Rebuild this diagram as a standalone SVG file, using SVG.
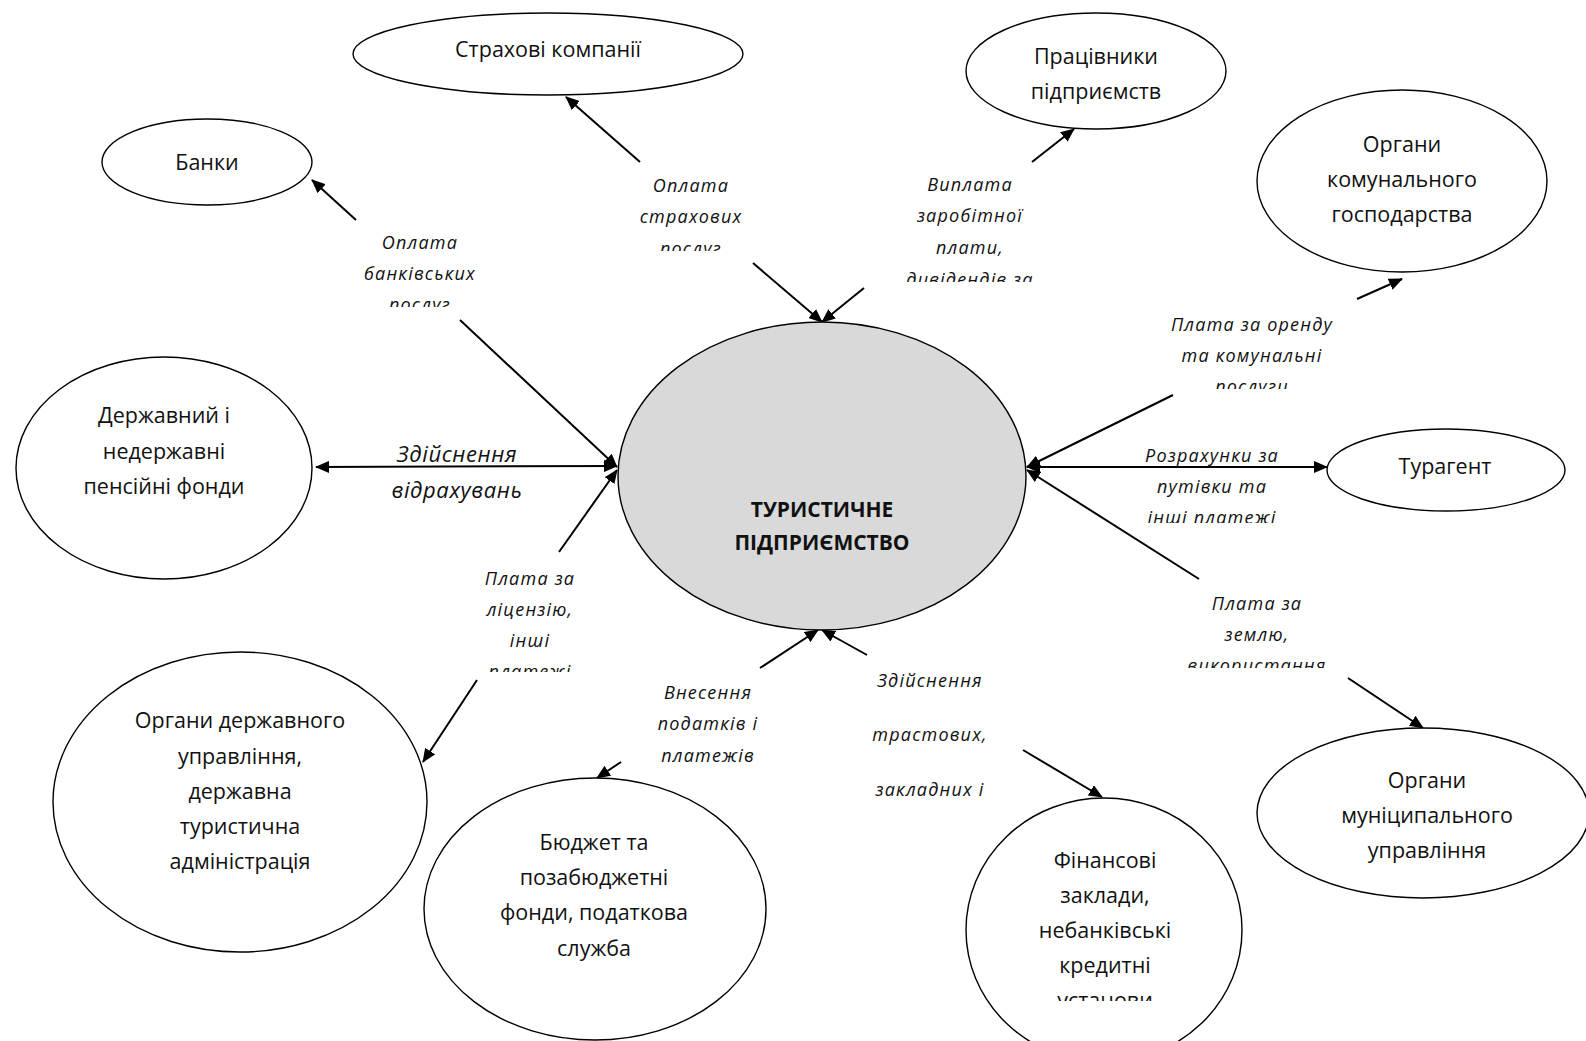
<svg xmlns="http://www.w3.org/2000/svg" width="1586" height="1041" viewBox="0 0 1586 1041">
<style>
.node ellipse{fill:#fff;stroke:#000;stroke-width:1.4}
.node.core ellipse{fill:#d9d9d9}
.nt{font-family:"Open Sans","Noto Sans",sans-serif;font-size:21.5px;fill:#111;text-anchor:middle}
.core .nt{font-weight:bold;font-size:21px}
.lbl{font-family:"Open Sans","Noto Sans",sans-serif;font-style:italic;font-size:18px;letter-spacing:1.2px;fill:#111;text-anchor:middle}
.lbl.big{font-size:22px;letter-spacing:0.6px}
.conn line{stroke:#000;stroke-width:2;fill:none}
</style>
<defs>
<marker id="ah" viewBox="0 0 14 12" refX="13" refY="6" markerWidth="14" markerHeight="12" markerUnits="userSpaceOnUse" orient="auto">
<path d="M0,0 L14,6 L0,12 z" fill="#000"/>
</marker>
<marker id="ahs" viewBox="0 0 14 12" refX="1" refY="6" markerWidth="14" markerHeight="12" markerUnits="userSpaceOnUse" orient="auto">
<path d="M14,0 L0,6 L14,12 z" fill="#000"/>
</marker>
<clipPath id="c1"><rect x="300" y="220" width="240" height="87"/></clipPath>
<clipPath id="c2"><rect x="580" y="160" width="220" height="91"/></clipPath>
<clipPath id="c3"><rect x="860" y="160" width="220" height="122"/></clipPath>
<clipPath id="c4"><rect x="1120" y="300" width="260" height="89"/></clipPath>
<clipPath id="c5"><rect x="1100" y="430" width="230" height="93"/></clipPath>
<clipPath id="c6"><rect x="1150" y="580" width="220" height="88"/></clipPath>
<clipPath id="c7"><rect x="430" y="555" width="200" height="117"/></clipPath>
<clipPath id="c8"><rect x="960" y="830" width="290" height="171"/></clipPath>
</defs>

<g id="connectors" class="conn">
<line x1="356" y1="220" x2="312" y2="180" marker-end="url(#ah)"/>
<line x1="460" y1="320" x2="617" y2="467" marker-end="url(#ah)"/>
<line x1="640" y1="162" x2="566" y2="97" marker-end="url(#ah)"/>
<line x1="753" y1="263" x2="822" y2="322" marker-end="url(#ah)"/>
<line x1="1032" y1="162" x2="1074" y2="129" marker-end="url(#ah)"/>
<line x1="864" y1="288" x2="822" y2="322" marker-end="url(#ah)"/>
<line x1="1173" y1="395" x2="1027" y2="467" marker-end="url(#ah)"/>
<line x1="1357" y1="299" x2="1402" y2="279" marker-end="url(#ah)"/>
<line x1="1027" y1="467" x2="1327" y2="467" marker-start="url(#ahs)" marker-end="url(#ah)"/>
<line x1="1199" y1="579" x2="1027" y2="470" marker-end="url(#ah)"/>
<line x1="1348" y1="678" x2="1423" y2="728" marker-end="url(#ah)"/>
<line x1="559" y1="552" x2="617" y2="470" marker-end="url(#ah)"/>
<line x1="477" y1="680" x2="423" y2="762" marker-end="url(#ah)"/>
<line x1="760" y1="668" x2="818" y2="630" marker-end="url(#ah)"/>
<line x1="621" y1="762" x2="597" y2="778" marker-end="url(#ah)"/>
<line x1="867" y1="655" x2="822" y2="630" marker-end="url(#ah)"/>
<line x1="1023" y1="750" x2="1102" y2="797" marker-end="url(#ah)"/>
<line x1="316" y1="467" x2="617" y2="466" marker-start="url(#ahs)" marker-end="url(#ah)"/>
</g>

<g id="labels">
<g clip-path="url(#c1)"><text class="lbl" x="420" y="249">Оплата</text><text class="lbl" x="420" y="280">банківських</text><text class="lbl" x="420" y="311">послуг</text></g>
<g clip-path="url(#c2)"><text class="lbl" x="691" y="192">Оплата</text><text class="lbl" x="691" y="223">страхових</text><text class="lbl" x="691" y="255">послуг</text></g>
<g clip-path="url(#c3)"><text class="lbl" x="970" y="191">Виплата</text><text class="lbl" x="970" y="222">заробітної</text><text class="lbl" x="970" y="254">плати,</text><text class="lbl" x="970" y="286">дивідендів за</text></g>
<g clip-path="url(#c4)"><text class="lbl" x="1252" y="331">Плата за оренду</text><text class="lbl" x="1252" y="362">та комунальні</text><text class="lbl" x="1252" y="393">послуги</text></g>
<g clip-path="url(#c5)"><text class="lbl" x="1212" y="462">Розрахунки за</text><text class="lbl" x="1212" y="493">путівки та</text><text class="lbl" x="1212" y="524">інші платежі</text></g>
<g clip-path="url(#c6)"><text class="lbl" x="1257" y="610">Плата за</text><text class="lbl" x="1257" y="641">землю,</text><text class="lbl" x="1257" y="672">використання</text></g>
<g clip-path="url(#c7)"><text class="lbl" x="530" y="585">Плата за</text><text class="lbl" x="530" y="616">ліцензію,</text><text class="lbl" x="530" y="647">інші</text><text class="lbl" x="530" y="678">платежі</text></g>
<g><text class="lbl" x="708" y="699">Внесення</text><text class="lbl" x="708" y="730">податків і</text><text class="lbl" x="708" y="762">платежів</text></g>
<g><text class="lbl" x="930" y="687">Здійснення</text><text class="lbl" x="930" y="741">трастових,</text><text class="lbl" x="930" y="796">закладних і</text></g>
<g><text class="lbl big" x="457" y="462">Здійснення</text><text class="lbl big" x="457" y="498">відрахувань</text></g>
</g>

<g id="n-insurance" class="node"><ellipse cx="548" cy="54" rx="195" ry="41"/><text class="nt" x="548" y="57">Страхові компанії</text></g>
<g id="n-workers" class="node"><ellipse cx="1096" cy="71" rx="130" ry="58"/><text class="nt" x="1096" y="64">Працівники</text><text class="nt" x="1096" y="99">підприємств</text></g>
<g id="n-communal" class="node"><ellipse cx="1402" cy="181" rx="145" ry="91"/><text class="nt" x="1402" y="152">Органи</text><text class="nt" x="1402" y="187">комунального</text><text class="nt" x="1402" y="222">господарства</text></g>
<g id="n-banks" class="node"><ellipse cx="207" cy="162" rx="105" ry="43"/><text class="nt" x="207" y="170">Банки</text></g>
<g id="n-pension" class="node"><ellipse cx="164" cy="468" rx="148" ry="111"/><text class="nt" x="164" y="423">Державний і</text><text class="nt" x="164" y="459">недержавні</text><text class="nt" x="164" y="494">пенсійні фонди</text></g>
<g id="n-core" class="node core"><ellipse cx="822" cy="476" rx="204" ry="154"/><text class="nt" x="822" y="517">ТУРИСТИЧНЕ</text><text class="nt" x="822" y="550">ПІДПРИЄМСТВО</text></g>
<g id="n-agent" class="node"><ellipse cx="1446" cy="470" rx="119" ry="41"/><text class="nt" x="1445" y="474">Турагент</text></g>
<g id="n-state" class="node"><ellipse cx="240" cy="802" rx="187" ry="150"/><text class="nt" x="240" y="728">Органи державного</text><text class="nt" x="240" y="764">управління,</text><text class="nt" x="240" y="799">державна</text><text class="nt" x="240" y="834">туристична</text><text class="nt" x="240" y="869">адміністрація</text></g>
<g id="n-budget" class="node"><ellipse cx="595" cy="909" rx="171" ry="131"/><text class="nt" x="594" y="850">Бюджет та</text><text class="nt" x="594" y="885">позабюджетні</text><text class="nt" x="594" y="920">фонди, податкова</text><text class="nt" x="594" y="956">служба</text></g>
<g id="n-finance" class="node"><ellipse cx="1104" cy="930" rx="138" ry="132"/><g clip-path="url(#c8)"><text class="nt" x="1105" y="868">Фінансові</text><text class="nt" x="1105" y="903">заклади,</text><text class="nt" x="1105" y="938">небанківські</text><text class="nt" x="1105" y="973">кредитні</text><text class="nt" x="1105" y="1008">установи</text></g></g>
<g id="n-municipal" class="node"><ellipse cx="1423" cy="813" rx="166" ry="85"/><text class="nt" x="1427" y="788">Органи</text><text class="nt" x="1427" y="823">муніципального</text><text class="nt" x="1427" y="858">управління</text></g>
</svg>
